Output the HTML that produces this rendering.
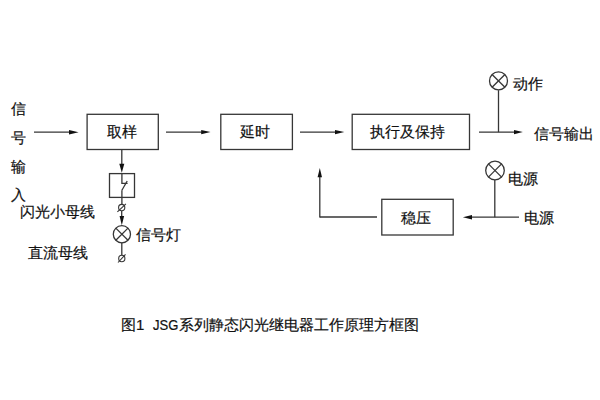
<!DOCTYPE html>
<html><head><meta charset="utf-8">
<style>
html,body{margin:0;padding:0;background:#fff;}
body{width:600px;height:400px;position:relative;overflow:hidden;font-family:"Liberation Sans",sans-serif;color:#1a1a1a;}
.t{position:absolute;white-space:nowrap;font-size:15px;line-height:15px;-webkit-text-stroke:0.2px #111;color:#111;}
svg{position:absolute;left:0;top:0;}
</style></head><body>
<svg width="600" height="400" viewBox="0 0 600 400">
<g fill="none" stroke="#363636" stroke-width="1.3">
  <!-- boxes -->
  <rect x="87.1" y="114.3" width="71.2" height="35.2"/>
  <rect x="220.8" y="114.3" width="71.6" height="35.2"/>
  <rect x="352.2" y="114.3" width="117.3" height="35.2"/>
  <rect x="381.8" y="199.3" width="71.4" height="35.7"/>
  <rect x="109.5" y="173.6" width="25" height="23.8"/>
  <!-- input arrow line -->
  <line x1="34" y1="132.2" x2="70" y2="132.2"/>
  <line x1="166" y1="132.1" x2="202" y2="132.1"/>
  <line x1="300" y1="132.1" x2="336" y2="132.1"/>
  <line x1="479" y1="132.1" x2="515" y2="132.1"/>
  <line x1="498.5" y1="132.1" x2="498.5" y2="90.2"/>
  <circle cx="498.5" cy="80.9" r="9"/>
  <line x1="492.1" y1="74.5" x2="504.9" y2="87.3"/>
  <line x1="504.9" y1="74.5" x2="492.1" y2="87.3"/>
  <!-- feedback -->
  <line x1="377" y1="217" x2="319.8" y2="217"/>
  <line x1="319.8" y1="217.6" x2="319.8" y2="177"/>
  <line x1="519" y1="217.2" x2="471" y2="217.2"/>
  <line x1="494.8" y1="217.2" x2="494.8" y2="180"/>
  <circle cx="495" cy="170.5" r="9.3"/>
  <line x1="488.4" y1="163.9" x2="501.6" y2="177.1"/>
  <line x1="501.6" y1="163.9" x2="488.4" y2="177.1"/>
  <!-- switch column -->
  <line x1="121.8" y1="149.5" x2="121.8" y2="165"/>
  <polyline points="121.9,173.6 121.9,183.3 127.6,183.3"/>
  <line x1="127.2" y1="181" x2="121.9" y2="190.3"/>
  <line x1="121.9" y1="190.3" x2="121.9" y2="204.3"/>
  <ellipse cx="121.7" cy="207.6" rx="3.1" ry="3.2" stroke-width="1.1"/>
  <line x1="117.4" y1="211.8" x2="125.9" y2="203.9" stroke-width="1.1"/>
  <line x1="121.7" y1="210.9" x2="121.7" y2="217"/>
  <circle cx="121.9" cy="234.2" r="8.6"/>
  <line x1="115.8" y1="228.1" x2="128" y2="240.3"/>
  <line x1="128" y1="228.1" x2="115.8" y2="240.3"/>
  <line x1="121.8" y1="242.8" x2="121.8" y2="255.3"/>
  <ellipse cx="121.8" cy="258.5" rx="3.1" ry="3.2" stroke-width="1.1"/>
  <line x1="118" y1="262.5" x2="125.5" y2="254.4" stroke-width="1.1"/>
</g>
<g fill="#111" stroke="none">
  <polygon points="69,129.9 78.6,132.2 69,134.5"/>
  <polygon points="201.2,129.9 210.5,132.1 201.2,134.3"/>
  <polygon points="335,129.9 344.3,132.1 335,134.3"/>
  <polygon points="514,129.9 522.8,132.1 514,134.3"/>
  <polygon points="472,214.9 462.9,217.2 472,219.4"/>
  <polygon points="317.6,177.2 319.8,168 322,177.2"/>
  <polygon points="119.3,163.8 121.8,172.8 124.3,163.8"/>
  <polygon points="119.6,216 121.8,225.2 124.1,216"/>
</g>
</svg>
<div class="t" style="left:11px;top:101px;">信</div>
<div class="t" style="left:11px;top:130px;">号</div>
<div class="t" style="left:11px;top:159px;">输</div>
<div class="t" style="left:11px;top:187px;">入</div>
<div class="t" style="left:107px;top:124px;">取样</div>
<div class="t" style="left:240px;top:124px;">延时</div>
<div class="t" style="left:370px;top:124px;">执行及保持</div>
<div class="t" style="left:401px;top:210px;">稳压</div>
<div class="t" style="left:513px;top:76px;">动作</div>
<div class="t" style="left:534px;top:126px;">信号输出</div>
<div class="t" style="left:508px;top:171px;">电源</div>
<div class="t" style="left:523.5px;top:210px;">电源</div>
<div class="t" style="left:20px;top:204px;">闪光小母线</div>
<div class="t" style="left:136px;top:227px;">信号灯</div>
<div class="t" style="left:28px;top:245px;">直流母线</div>
<div class="t" style="left:121px;top:317px;">图1</div>
<div class="t" id="jsg" style="left:152.8px;top:317px;transform:scaleX(0.87);transform-origin:0 0;">JSG</div>
<div class="t" id="cap2" style="left:179px;top:317px;">系列静态闪光继电器工作原理方框图</div>
</body></html>
